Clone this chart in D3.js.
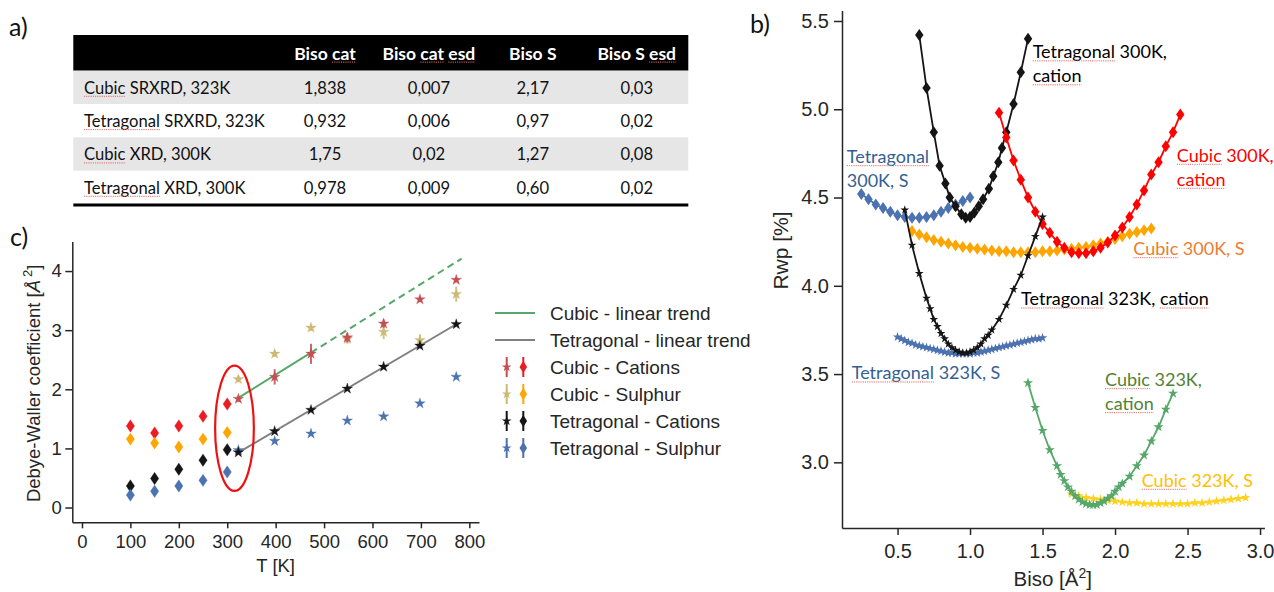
<!DOCTYPE html>
<html><head><meta charset="utf-8">
<script src="https://cdn.jsdelivr.net/npm/d3@7"></script>
<style>
html,body{margin:0;padding:0;background:#fff;}
svg{display:block;}
</style></head><body>
<svg id="fig" width="1274" height="592"></svg>
<script>
// ================= DATA =================
// ---- (a) table ----
const tableHeaders = ["", "Biso cat", "Biso cat esd", "Biso S", "Biso S esd"];
const tableRowLabels = ["Cubic SRXRD, 323K", "Tetragonal SRXRD, 323K", "Cubic XRD, 300K", "Tetragonal XRD, 300K"];
const tableBisoCat = ["1,838", "0,932", "1,75", "0,978"];
const tableBisoCatEsd = ["0,007", "0,006", "0,02", "0,009"];
const tableBisoS = ["2,17", "0,97", "1,27", "0,60"];
const tableBisoSEsd = ["0,03", "0,02", "0,08", "0,02"];
// words flagged by the spell checker (red squiggles)
const flaggedWords = ["Cubic", "Tetragonal", "cat", "esd", "cation"];

// ---- (c) Debye-Waller coefficient vs T ----
const cTicksX = [0, 100, 200, 300, 400, 500, 600, 700, 800];
const cTicksY = [0, 1, 2, 3, 4];
const xrdT = [100, 150, 200, 250, 300];
const cubCatXRD = [1.38, 1.26, 1.38, 1.545, 1.75];
const cubSXRD = [1.157, 1.09, 1.025, 1.157, 1.27];
const tetCatXRD = [0.365, 0.49, 0.648, 0.80, 0.978];
const tetSXRD = [0.21, 0.275, 0.365, 0.46, 0.60];
const xrdErr = [0.03, 0.03, 0.03, 0.03, 0.03];
const srxrdT = [323, 398, 473, 548, 623, 698, 773];
const cubCatSR = [1.838, 2.21, 2.6, 2.875, 3.11, 3.52, 3.85];
const cubSSR = [2.17, 2.6, 3.04, 2.85, 2.97, 2.83, 3.61];
const tetCatSR = [0.932, 1.29, 1.65, 2.01, 2.38, 2.735, 3.10];
const tetSSR = [0.97, 1.125, 1.25, 1.47, 1.54, 1.76, 2.21];
const cubCatSRErr = [0.05, 0.13, 0.17, 0.08, 0.07, 0.04, 0.04];
const cubSSRErr = [0.05, 0.05, 0.05, 0.08, 0.12, 0.1, 0.13];
const tetCatSRErr = [0.02, 0.02, 0.02, 0.02, 0.02, 0.02, 0.02];
const tetSSRErr = [0.02, 0.02, 0.02, 0.02, 0.02, 0.02, 0.02];
const cubTrendT = [323, 473, 784];
const cubTrendV = [1.855, 2.62, 4.21];
const tetTrendT = [323, 773];
const tetTrendV = [0.93, 3.10];
const ellipseT = [315, 40];      // centre, half-width (K)
const ellipseV = [1.34, 1.06];   // centre, half-height (A^2)
const legendLabels = ["Cubic - linear trend", "Tetragonal - linear trend", "Cubic - Cations", "Cubic - Sulphur", "Tetragonal - Cations", "Tetragonal - Sulphur"];

// ---- (b) Rwp vs Biso ----
const bTicksX = [0.5, 1.0, 1.5, 2.0, 2.5, 3.0];
const bTicksY = [3.0, 3.5, 4.0, 4.5, 5.0, 5.5];
const tet300CatB = [0.65, 0.70, 0.75, 0.79, 0.83, 0.86, 0.90, 0.94, 0.97, 1.00, 1.03, 1.06, 1.09, 1.13, 1.16, 1.195, 1.22, 1.25, 1.30, 1.35, 1.40];
const tet300CatR = [5.42, 5.12, 4.87, 4.68, 4.58, 4.50, 4.45, 4.405, 4.385, 4.39, 4.415, 4.45, 4.49, 4.55, 4.62, 4.70, 4.78, 4.87, 5.03, 5.21, 5.40];
const tet300SB = [0.25, 0.30, 0.35, 0.40, 0.45, 0.50, 0.55, 0.60, 0.65, 0.70, 0.75, 0.80, 0.85, 0.90, 0.95, 1.00];
const tet300SR = [4.52, 4.49, 4.46, 4.44, 4.42, 4.40, 4.39, 4.385, 4.385, 4.39, 4.40, 4.42, 4.44, 4.46, 4.48, 4.50];
const cub300CatB = [1.20, 1.25, 1.30, 1.35, 1.40, 1.45, 1.50, 1.55, 1.60, 1.65, 1.70, 1.75, 1.80, 1.85, 1.90, 1.95, 2.00, 2.05, 2.10, 2.15, 2.20, 2.25, 2.30, 2.35, 2.40, 2.45];
const cub300CatR = [4.98, 4.84, 4.71, 4.60, 4.50, 4.42, 4.35, 4.30, 4.25, 4.215, 4.19, 4.185, 4.185, 4.195, 4.215, 4.245, 4.285, 4.33, 4.39, 4.46, 4.54, 4.63, 4.70, 4.79, 4.87, 4.97];
const cub300SB = [0.60, 0.65, 0.70, 0.75, 0.80, 0.85, 0.90, 0.95, 1.00, 1.05, 1.10, 1.15, 1.20, 1.25, 1.30, 1.35, 1.40, 1.45, 1.50, 1.55, 1.60, 1.65, 1.70, 1.75, 1.80, 1.85, 1.90, 1.95, 2.00, 2.05, 2.10, 2.15, 2.20, 2.25];
const cub300SR = [4.31, 4.29, 4.275, 4.26, 4.25, 4.24, 4.23, 4.22, 4.215, 4.21, 4.205, 4.20, 4.195, 4.195, 4.19, 4.19, 4.19, 4.19, 4.195, 4.195, 4.20, 4.205, 4.21, 4.215, 4.22, 4.23, 4.24, 4.25, 4.265, 4.28, 4.295, 4.305, 4.315, 4.325];
const tet323CatB = [0.55, 0.60, 0.65, 0.70, 0.725, 0.75, 0.775, 0.80, 0.825, 0.85, 0.875, 0.90, 0.925, 0.95, 0.975, 1.00, 1.025, 1.05, 1.075, 1.10, 1.125, 1.15, 1.20, 1.25, 1.30, 1.35, 1.40, 1.45, 1.50];
const tet323CatR = [4.43, 4.23, 4.07, 3.93, 3.87, 3.81, 3.77, 3.73, 3.70, 3.67, 3.65, 3.635, 3.625, 3.62, 3.62, 3.625, 3.635, 3.65, 3.67, 3.70, 3.72, 3.75, 3.81, 3.89, 3.98, 4.06, 4.17, 4.28, 4.39];
const tet323SB = [0.50, 0.525, 0.55, 0.575, 0.60, 0.625, 0.65, 0.675, 0.70, 0.725, 0.75, 0.775, 0.80, 0.825, 0.85, 0.875, 0.90, 0.925, 0.95, 0.975, 1.00, 1.025, 1.05, 1.075, 1.10, 1.125, 1.15, 1.175, 1.20, 1.225, 1.25, 1.275, 1.30, 1.325, 1.35, 1.375, 1.40, 1.425, 1.45, 1.475, 1.50];
const tet323SR = [3.71, 3.70, 3.69, 3.68, 3.675, 3.665, 3.66, 3.655, 3.65, 3.645, 3.64, 3.635, 3.63, 3.625, 3.62, 3.62, 3.615, 3.615, 3.615, 3.615, 3.615, 3.62, 3.62, 3.625, 3.63, 3.635, 3.64, 3.645, 3.65, 3.655, 3.66, 3.665, 3.67, 3.675, 3.68, 3.685, 3.69, 3.695, 3.70, 3.70, 3.705];
const cub323CatB = [1.40, 1.45, 1.50, 1.55, 1.60, 1.625, 1.65, 1.675, 1.70, 1.725, 1.75, 1.775, 1.80, 1.825, 1.85, 1.875, 1.90, 1.925, 1.95, 1.975, 2.00, 2.025, 2.05, 2.10, 2.15, 2.20, 2.25, 2.30, 2.35, 2.40];
const cub323CatR = [3.45, 3.31, 3.18, 3.07, 2.98, 2.93, 2.895, 2.86, 2.835, 2.81, 2.79, 2.775, 2.765, 2.76, 2.758, 2.76, 2.77, 2.78, 2.795, 2.81, 2.835, 2.86, 2.88, 2.92, 2.98, 3.04, 3.12, 3.20, 3.30, 3.39];
const cub323SB = [1.70, 1.75, 1.80, 1.85, 1.90, 1.95, 2.00, 2.05, 2.10, 2.15, 2.20, 2.25, 2.30, 2.35, 2.40, 2.45, 2.50, 2.55, 2.60, 2.65, 2.70, 2.75, 2.80, 2.85, 2.90];
const cub323SR = [2.82, 2.81, 2.80, 2.795, 2.79, 2.785, 2.78, 2.775, 2.77, 2.77, 2.765, 2.765, 2.765, 2.765, 2.765, 2.765, 2.765, 2.77, 2.77, 2.775, 2.78, 2.785, 2.79, 2.795, 2.80];
// curve annotations: text lines, anchor (Biso, Rwp)
const bLabelText = [["Tetragonal 300K,", "cation"], ["Tetragonal", "300K, S"], ["Cubic 300K,", "cation"], ["Cubic 300K, S"], ["Tetragonal 323K, cation"], ["Tetragonal 323K, S"], ["Cubic 323K,", "cation"], ["Cubic 323K, S"]];
const bLabelB = [1.432, 0.150, 2.426, 2.126, 1.352, 0.184, 1.931, 2.184];
const bLabelR = [5.289, 4.695, 4.703, 4.174, 3.889, 3.470, 3.432, 2.862];

// ================= STYLE / LAYOUT =================
const svg = d3.select("#fig");
const AX = "#262626";
const sansF = "'Liberation Sans', Arial, sans-serif";
const calF = "Lato, 'Open Sans', sans-serif";
const C = {red: "#ec1c24", orange: "#ffa500", black: "#151515", blue: "#4c72b0",
  starRed: "#c44e52", khaki: "#ccb974", green: "#55a868", gray: "#808080", gold: "#ffd21f"};
const SQUIG = "#e46a6a";

function diamond(hw, hh) { return `M0,${-hh}L${hw},0L0,${hh}L${-hw},0Z`; }
const starPath = s => d3.symbol(d3.symbolStar, s)();

// red dotted underline under spell-flagged words of a text/tspan node
function squiggle(parentG, node, baseY) {
  const s = node.textContent;
  flaggedWords.forEach(w => {
    const re = new RegExp("\\b" + w + "\\b", "g");
    let m;
    while ((m = re.exec(s)) !== null) {
      const a = node.getExtentOfChar(m.index);
      const b = node.getExtentOfChar(m.index + w.length - 1);
      parentG.append("line").attr("x1", a.x).attr("x2", b.x + b.width).attr("y1", baseY + 2.6).attr("y2", baseY + 2.6)
        .attr("stroke", SQUIG).attr("stroke-width", 1).attr("stroke-dasharray", "1.2,1");
    }
  });
}

// ================= (a) TABLE =================
const tbl = {left: 73.3, right: 688.3, headTop: 35, headBottom: 70.7, bottom: 204, labelX: 84};
const colCenter = d3.scalePoint().domain(d3.range(1, 5)).range([325, 636.7]);
const rowBand = d3.scaleBand().domain(d3.range(tableRowLabels.length)).range([tbl.headBottom, tbl.bottom]);
const gT = svg.append("g");
gT.append("rect").attr("x", tbl.left).attr("y", tbl.headTop).attr("width", tbl.right - tbl.left)
  .attr("height", tbl.headBottom - tbl.headTop).attr("fill", "#000");
gT.selectAll("text.h").data(tableHeaders.slice(1)).join("text")
  .attr("x", (d, i) => colCenter(i + 1)).attr("y", 59.5).attr("text-anchor", "middle")
  .attr("font-family", calF).attr("font-weight", "bold").attr("font-size", 17.5).attr("fill", "#fff").text(d => d)
  .each(function() { squiggle(gT, this, 59.5); });
const rowsData = tableRowLabels.map((l, i) => [l, tableBisoCat[i], tableBisoCatEsd[i], tableBisoS[i], tableBisoSEsd[i]]);
rowsData.forEach((r, i) => {
  if (i % 2 === 0) gT.append("rect").attr("x", tbl.left).attr("y", rowBand(i)).attr("width", tbl.right - tbl.left)
    .attr("height", rowBand.bandwidth()).attr("fill", "#e7e6e6");
  r.forEach((v, j) => {
    const y = rowBand(i) + 23;
    const t = gT.append("text").attr("x", j === 0 ? tbl.labelX : colCenter(j)).attr("y", y)
      .attr("text-anchor", j === 0 ? "start" : "middle").attr("font-family", calF).attr("font-size", 16.6)
      .attr("fill", "#111").text(v);
    if (j === 0) squiggle(gT, t.node(), y);
  });
});
gT.append("rect").attr("x", tbl.left).attr("y", tbl.bottom - 0.5).attr("width", tbl.right - tbl.left).attr("height", 3).attr("fill", "#000");
svg.append("text").attr("x", 9).attr("y", 36).attr("font-family", calF).attr("font-size", 25).attr("fill", "#111").text("a)");

// ================= (c) SCATTER =================
const xC = d3.scaleLinear().domain([-20, 820]).range([72.3, 479]);
const yC = d3.scaleLinear().domain([-0.25, 4.5]).range([522.3, 241.5]);
const gC = svg.append("g");
const axC = gC.append("g").attr("transform", `translate(0,${yC(-0.25)})`)
  .call(d3.axisBottom(xC).tickValues(cTicksX).tickFormat(d3.format("d")).tickSize(6).tickSizeOuter(0).tickPadding(7));
const ayC = gC.append("g").attr("transform", `translate(${xC(-20)},0)`)
  .call(d3.axisLeft(yC).tickValues(cTicksY).tickFormat(d3.format("d")).tickSize(7).tickSizeOuter(0).tickPadding(3.5));
[axC, ayC].forEach(a => {
  a.selectAll("path,line").attr("stroke", AX).attr("stroke-width", 1.5);
  a.selectAll("text").attr("font-family", sansF).attr("font-size", 18.5).attr("fill", AX);
});
gC.append("text").attr("x", xC(400)).attr("y", 571.5).attr("text-anchor", "middle")
  .attr("font-family", sansF).attr("font-size", 18.5).attr("fill", AX).text("T [K]");
const yl = gC.append("text").attr("transform", `translate(40,${yC(2.1)}) rotate(-90)`).attr("text-anchor", "middle")
  .attr("font-family", sansF).attr("font-size", 18.5).attr("fill", AX);
yl.append("tspan").text("Debye-Waller coefficient [");
yl.append("tspan").attr("font-style", "italic").text("Å");
yl.append("tspan").attr("dx", 3).attr("dy", -8).attr("font-size", 13).text("2");
yl.append("tspan").attr("dy", 8).text("]");
svg.append("text").attr("x", 10).attr("y", 246).attr("font-family", calF).attr("font-size", 25).attr("fill", "#111").text("c)");

// trend lines
const lineC = d3.line().x(d => xC(d[0])).y(d => yC(d[1]));
gC.append("path").attr("d", lineC([[cubTrendT[0], cubTrendV[0]], [cubTrendT[1], cubTrendV[1]]]))
  .attr("stroke", C.green).attr("stroke-width", 2).attr("fill", "none");
gC.append("path").attr("d", lineC([[cubTrendT[1], cubTrendV[1]], [cubTrendT[2], cubTrendV[2]]]))
  .attr("stroke", C.green).attr("stroke-width", 2).attr("fill", "none").attr("stroke-dasharray", "7,4.5");
gC.append("path").attr("d", lineC(tetTrendT.map((t, i) => [t, tetTrendV[i]])))
  .attr("stroke", C.gray).attr("stroke-width", 2).attr("fill", "none");

function errMarks(g, xs, ys, es, color, kind) {
  xs.forEach((t, i) => {
    g.append("line").attr("x1", xC(t)).attr("x2", xC(t)).attr("y1", yC(ys[i] - es[i])).attr("y2", yC(ys[i] + es[i]))
      .attr("stroke", color).attr("stroke-width", 2).attr("opacity", 0.85);
    g.append("path").attr("d", kind === "star" ? starPath(35) : diamond(4.2, 6.2))
      .attr("transform", `translate(${xC(t)},${yC(ys[i])})`).attr("fill", color)
      .attr("stroke", color).attr("stroke-width", 0.6).attr("stroke-opacity", 0.5);
  });
}
errMarks(gC, xrdT, cubCatXRD, xrdErr, C.red, "d");
errMarks(gC, xrdT, cubSXRD, xrdErr, C.orange, "d");
errMarks(gC, xrdT, tetCatXRD, xrdErr, C.black, "d");
errMarks(gC, xrdT, tetSXRD, xrdErr, C.blue, "d");
errMarks(gC, srxrdT, cubSSR, cubSSRErr, C.khaki, "star");
errMarks(gC, srxrdT, cubCatSR, cubCatSRErr, C.starRed, "star");
errMarks(gC, srxrdT, tetSSR, tetSSRErr, C.blue, "star");
errMarks(gC, srxrdT, tetCatSR, tetCatSRErr, C.black, "star");

gC.append("ellipse").attr("cx", xC(ellipseT[0])).attr("cy", yC(ellipseV[0]))
  .attr("rx", xC(ellipseT[0] + ellipseT[1]) - xC(ellipseT[0])).attr("ry", yC(ellipseV[0] - ellipseV[1]) - yC(ellipseV[0]))
  .attr("fill", "none").attr("stroke", "#ee1111").attr("stroke-width", 2.2);

// legend
const leg = {x0: 495, x1: 535, starX: 506.7, diaX: 523.3, textX: 550, y0: 313, dy: 27};
const legRow = i => leg.y0 + i * leg.dy;
const gL = svg.append("g");
const legLineColors = [C.green, C.gray];
const legMarkColors = [[C.starRed, C.red], [C.khaki, C.orange], [C.black, C.black], [C.blue, C.blue]];
legendLabels.forEach((lab, i) => {
  const y = legRow(i);
  if (i < 2) {
    gL.append("line").attr("x1", leg.x0).attr("x2", leg.x1).attr("y1", y).attr("y2", y)
      .attr("stroke", legLineColors[i]).attr("stroke-width", 2);
  } else {
    const [cs, cd] = legMarkColors[i - 2];
    [[leg.starX, cs, "star"], [leg.diaX, cd, "d"]].forEach(([x, col, k]) => {
      gL.append("line").attr("x1", x).attr("x2", x).attr("y1", y - 10).attr("y2", y + 10).attr("stroke", col).attr("stroke-width", 2);
      gL.append("path").attr("d", k === "star" ? starPath(30) : diamond(3.8, 6)).attr("transform", `translate(${x},${y})`).attr("fill", col);
    });
  }
  gL.append("text").attr("x", leg.textX).attr("y", y + 6.8).attr("font-family", sansF).attr("font-size", 19)
    .attr("fill", AX).text(lab);
});

// ================= (b) Rwp =================
const xB = d3.scaleLinear().domain([0.117, 3.03]).range([842, 1264.4]);
const yB = d3.scaleLinear().domain([2.628, 5.56]).range([528, 10.4]);
const gB = svg.append("g");
const axB = gB.append("g").attr("transform", `translate(0,${yB(2.628)})`)
  .call(d3.axisBottom(xB).tickValues(bTicksX).tickFormat(d3.format(".1f")).tickSize(7).tickSizeOuter(0).tickPadding(8.5));
const ayB = gB.append("g").attr("transform", `translate(${xB(0.117)},0)`)
  .call(d3.axisLeft(yB).tickValues(bTicksY).tickFormat(d3.format(".1f")).tickSize(8).tickSizeOuter(0).tickPadding(5));
[axB, ayB].forEach(a => {
  a.selectAll("path,line").attr("stroke", AX).attr("stroke-width", 1.5);
  a.selectAll("text").attr("font-family", sansF).attr("font-size", 20).attr("fill", AX);
});
const xl = gB.append("text").attr("x", xB(1.57)).attr("y", 586).attr("text-anchor", "middle")
  .attr("font-family", sansF).attr("font-size", 20.5).attr("fill", AX);
xl.append("tspan").text("Biso [Å");
xl.append("tspan").attr("dy", -8).attr("font-size", 14).text("2");
xl.append("tspan").attr("dy", 8).text("]");
gB.append("text").attr("transform", `translate(788,${yB(4.2)}) rotate(-90)`).attr("text-anchor", "middle")
  .attr("font-family", sansF).attr("font-size", 21).attr("fill", AX).text("Rwp [%]");
svg.append("text").attr("x", 750).attr("y", 33).attr("font-family", calF).attr("font-size", 25).attr("fill", "#111").text("b)");

const lineB = d3.line().x(d => xB(d[0])).y(d => yB(d[1]));
function curve(bs, rs, color, kind, size) {
  const pts = bs.map((b, i) => [b, rs[i]]);
  gB.append("path").attr("d", lineB(pts)).attr("fill", "none").attr("stroke", color).attr("stroke-width", 1.8);
  gB.selectAll(null).data(pts).join("path")
    .attr("d", kind === "star" ? starPath(size) : diamond(4.2, 6))
    .attr("transform", d => `translate(${xB(d[0])},${yB(d[1])})`).attr("fill", color);
}
curve(tet300SB, tet300SR, C.blue, "d");
curve(cub300SB, cub300SR, C.orange, "d");
curve(tet323SB, tet323SR, C.blue, "star", 28);
curve(cub323SB, cub323SR, C.gold, "star", 30);
curve(tet300CatB, tet300CatR, C.black, "d");
curve(cub300CatB, cub300CatR, "#ff0000", "d");
curve(tet323CatB, tet323CatR, C.black, "star", 24);
curve(cub323CatB, cub323CatR, C.green, "star", 32);

const bLabelColors = ["#000000", "#355f93", "#ff0000", "#ed7d31", "#000000", "#355f93", "#538135", "#ffc000"];
bLabelText.forEach((lines, i) => {
  const x = xB(bLabelB[i]);
  lines.forEach((ln, k) => {
    const y = yB(bLabelR[i]) + k * 24;
    const t = gB.append("text").attr("x", x).attr("y", y)
      .attr("font-family", calF).attr("font-size", 18).attr("fill", bLabelColors[i]).text(ln);
    squiggle(gB, t.node(), y);
  });
});
</script>
</body></html>
